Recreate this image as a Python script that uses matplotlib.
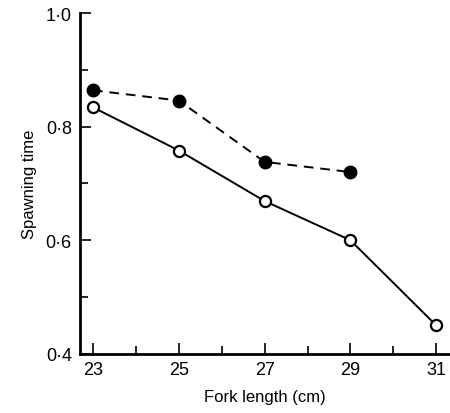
import numpy as np
import matplotlib
matplotlib.use('Agg')
import matplotlib.pyplot as plt
from matplotlib.ticker import MultipleLocator, FixedLocator, FuncFormatter

# fork length (cm)
length_filled = [23, 25, 27, 29]
time_filled = [0.864, 0.846, 0.738, 0.720]
length_open = [23, 25, 27, 29, 31]
time_open = [0.834, 0.758, 0.669, 0.600, 0.450]
x_labelled = [23, 25, 27, 29, 31]

plt.rcParams['font.family'] = 'Liberation Sans'

fig = plt.figure(figsize=(4.5, 4.14), dpi=100)
ax = fig.add_axes([0.178, 0.143, 0.82, 0.823])

ax.plot(length_open, time_open, '-', color='black', lw=1.4,
        marker='o', ms=8, mfc='white', mec='black', mew=1.6, clip_on=False)
ax.plot(length_filled, time_filled, '--', color='black', lw=1.4, dashes=(5, 3.5),
        marker='o', ms=9, mfc='black', mec='black', clip_on=False)

ax.set_xlim(22.7, 31.3)
ax.set_ylim(0.4, 1.0)
ax.xaxis.set_major_locator(FixedLocator(x_labelled))
ax.xaxis.set_minor_locator(MultipleLocator(1))
ax.yaxis.set_major_locator(MultipleLocator(0.2))
ax.yaxis.set_minor_locator(MultipleLocator(0.1))
ax.xaxis.set_major_formatter(FuncFormatter(lambda v, p: '%d' % round(v)))
ax.yaxis.set_major_formatter(FuncFormatter(lambda v, p: ('%.1f' % v).replace('.', '\u00b7')))

ax.tick_params(which='both', direction='in', width=1.2, colors='black', labelsize=13)
ax.tick_params(which='major', length=8)
ax.tick_params(which='minor', length=6)
ax.tick_params(axis='y', pad=6)
ax.tick_params(axis='x', pad=5)

for s in ['top', 'right']:
    ax.spines[s].set_visible(False)
for s in ['left', 'bottom']:
    ax.spines[s].set_linewidth(2)

ax.set_xlabel('Fork length (cm)', fontsize=12, labelpad=8)
ax.set_ylabel('Spawning time', fontsize=12, labelpad=6)

plt.savefig('out.png', dpi=100)
